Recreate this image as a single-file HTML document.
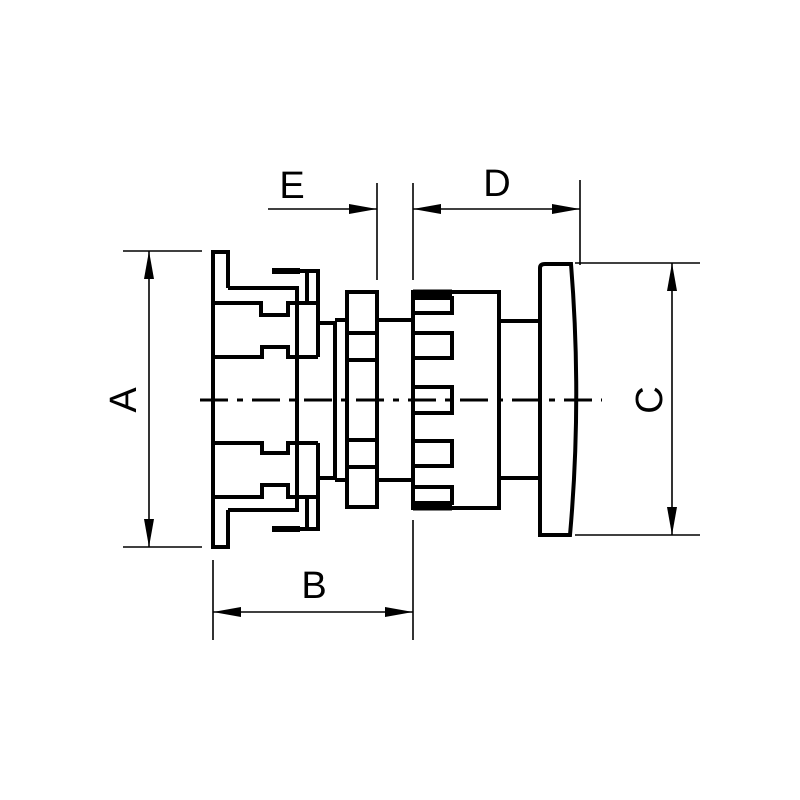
<!DOCTYPE html>
<html><head><style>body{margin:0;background:#fff}svg{display:block}</style></head><body>
<svg width="800" height="800" viewBox="0 0 800 800" xmlns="http://www.w3.org/2000/svg">
<defs>
<marker id="ar" viewBox="0 0 28 10" refX="28" refY="5" markerWidth="28" markerHeight="10" markerUnits="userSpaceOnUse" orient="auto-start-reverse"><path d="M0,0 L28,5 L0,10 Z" fill="#000"/></marker>
</defs>
<g fill="none" stroke="#000" stroke-width="4" stroke-linejoin="miter">
<!-- left flange -->
<polyline points="228,288 228,252 213,252 213,547 228,547 228,510"/>
<polyline points="228,288 297,288 297,510 228,510"/>
<polyline points="213,303 261,303 261,315 288,315 288,303 318,303"/>
<polyline points="213,357 262,357 262,347 288,347 288,357 318,357"/>
<polyline points="213,443 262,443 262,453 288,453 288,443 318,443"/>
<polyline points="213,497 262,497 262,485 288,485 288,497 318,497"/>
<polyline points="272,271 318,271 318,357"/>
<line x1="307" y1="271" x2="307" y2="303"/>
<polyline points="272,529 318,529 318,443"/>
<line x1="307" y1="529" x2="307" y2="497"/>
<line x1="272" y1="271" x2="300" y2="271" stroke-width="6"/>
<line x1="272" y1="529" x2="300" y2="529" stroke-width="6"/>
<polyline points="318,323 335,323 335,478 318,478"/>
<!-- collar -->
<polyline points="335,320 345,320"/><polyline points="335,480 345,480"/>
<!-- nut -->
<rect x="347" y="292" width="30" height="215"/>
<line x1="347" y1="333" x2="377" y2="333"/><line x1="347" y1="360" x2="377" y2="360"/>
<line x1="347" y1="440" x2="377" y2="440"/><line x1="347" y1="467" x2="377" y2="467"/>
<line x1="377" y1="320" x2="413" y2="320"/><line x1="377" y1="480" x2="413" y2="480"/>
<!-- cap body -->
<rect x="413" y="292" width="86" height="216"/>
<line x1="413" y1="293" x2="452" y2="293" stroke-width="7"/>
<line x1="413" y1="507" x2="452" y2="507" stroke-width="7"/>
<polyline points="413,298 452,298 452,313 413,313"/>
<polyline points="413,333 452,333 452,358 413,358"/>
<polyline points="413,387 452,387 452,413 413,413"/>
<polyline points="413,441 452,441 452,466 413,466"/>
<polyline points="413,487 452,487 452,503 413,503"/>
<line x1="499" y1="321" x2="540" y2="321"/><line x1="499" y1="478" x2="540" y2="478"/>
<!-- button -->
<path d="M540,268 Q540,264 545,264 L571,264 Q582,400 570,535 L540,535 Z"/>
</g>
<!-- center line -->
<line x1="200" y1="400" x2="602" y2="400" stroke="#000" stroke-width="3" stroke-dasharray="28,9,6,9"/>
<g stroke="#000" stroke-width="1.6" fill="none">
<line x1="123" y1="251" x2="202" y2="251"/><line x1="123" y1="547" x2="202" y2="547"/>
<line x1="149" y1="251" x2="149" y2="547" marker-start="url(#ar)" marker-end="url(#ar)"/>
<line x1="575" y1="263" x2="700" y2="263"/><line x1="575" y1="535" x2="700" y2="535"/>
<line x1="672" y1="263" x2="672" y2="535" marker-start="url(#ar)" marker-end="url(#ar)"/>
<line x1="377" y1="183" x2="377" y2="280"/><line x1="413" y1="183" x2="413" y2="280"/>
<line x1="580" y1="180" x2="580" y2="265"/>
<line x1="268" y1="209" x2="377" y2="209" marker-end="url(#ar)"/>
<line x1="413" y1="209" x2="580" y2="209" marker-start="url(#ar)" marker-end="url(#ar)"/>
<line x1="213" y1="560" x2="213" y2="640"/><line x1="413" y1="520" x2="413" y2="640"/>
<line x1="213" y1="612" x2="413" y2="612" marker-start="url(#ar)" marker-end="url(#ar)"/>
</g>
<g font-family="Liberation Sans, sans-serif" font-size="38" fill="#000" text-anchor="middle">
<text x="292" y="198">E</text>
<text x="497" y="196">D</text>
<text x="314" y="598">B</text>
<text transform="translate(136,400) rotate(-90)">A</text>
<text transform="translate(662,400) rotate(-90)">C</text>
</g>
</svg>
</body></html>
